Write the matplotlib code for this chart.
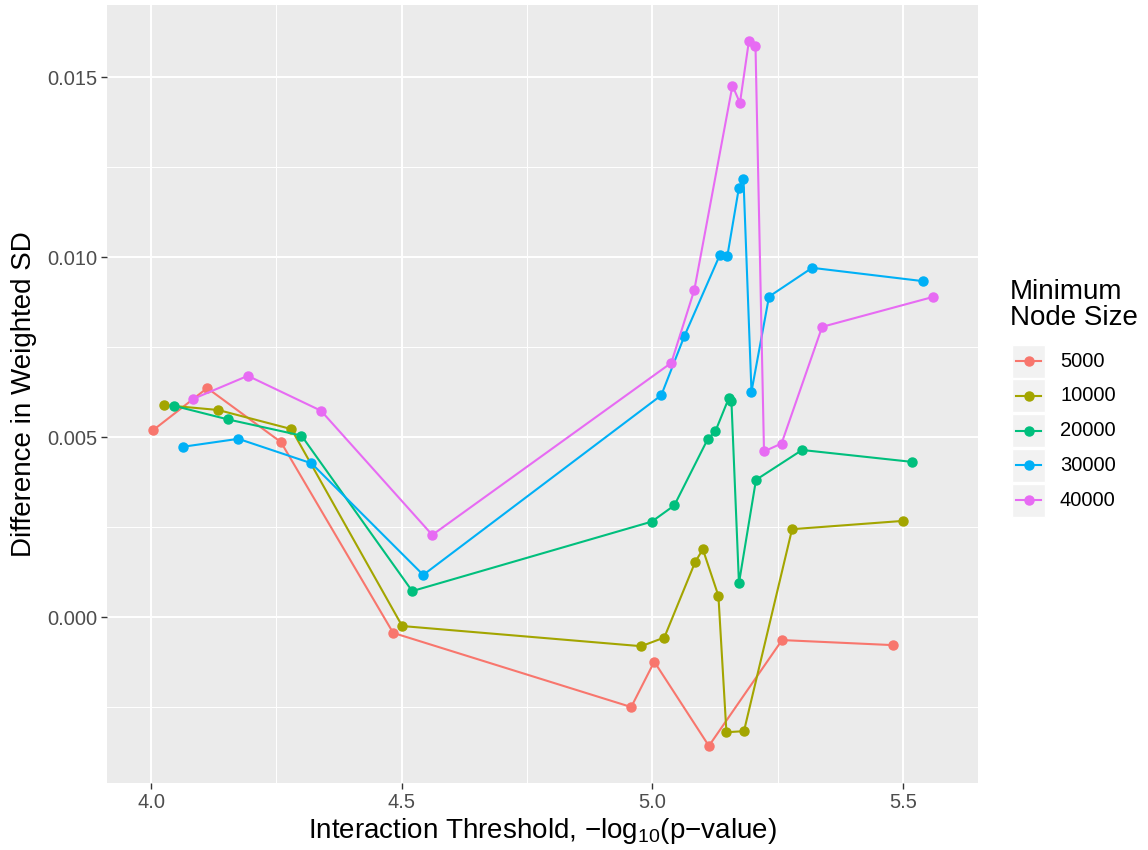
import matplotlib
matplotlib.use("Agg")
import matplotlib.pyplot as plt
from matplotlib.patches import Rectangle

plt.rcParams["font.family"] = ["Liberation Sans", "DejaVu Sans"]
plt.rcParams["mathtext.fontset"] = "custom"
plt.rcParams["mathtext.rm"] = "Liberation Sans"
plt.rcParams["mathtext.it"] = "Liberation Sans"

node_sizes = ["5000", "10000", "20000", "30000", "40000"]
colors = ["#F8766D", "#A3A500", "#00BF7D", "#00B0F6", "#E76BF3"]

x_5000 = [4.004, 4.112, 4.259, 4.483, 4.958, 5.004, 5.113, 5.259, 5.480]
y_5000 = [0.00519, 0.00636, 0.00486, -0.00044, -0.00250, -0.00124, -0.00358, -0.00064, -0.00078]

x_10000 = [4.025, 4.134, 4.280, 4.501, 4.978, 5.024, 5.086, 5.101, 5.132, 5.148, 5.183, 5.279, 5.500]
y_10000 = [0.00589, 0.00575, 0.00522, -0.00025, -0.00081, -0.00057, 0.00154, 0.00188, 0.00059,
           -0.00320, -0.00317, 0.00244, 0.00267]

x_20000 = [4.045, 4.153, 4.300, 4.521, 4.999, 5.044, 5.111, 5.126, 5.153, 5.158, 5.173, 5.207, 5.299, 5.518]
y_20000 = [0.00587, 0.00549, 0.00504, 0.00072, 0.00265, 0.00310, 0.00495, 0.00516, 0.00609, 0.00599,
           0.00094, 0.00381, 0.00464, 0.00431]

x_30000 = [4.064, 4.174, 4.320, 4.543, 5.018, 5.064, 5.135, 5.150, 5.173, 5.182, 5.198, 5.233, 5.319, 5.540]
y_30000 = [0.00473, 0.00495, 0.00427, 0.00117, 0.00616, 0.00780, 0.01006, 0.01004, 0.01193, 0.01217,
           0.00626, 0.00890, 0.00970, 0.00933]

x_40000 = [4.084, 4.193, 4.339, 4.561, 5.038, 5.084, 5.160, 5.175, 5.193, 5.206, 5.223, 5.258, 5.339, 5.560]
y_40000 = [0.00606, 0.00670, 0.00573, 0.00228, 0.00706, 0.00909, 0.01476, 0.01428, 0.01601, 0.01586,
           0.00460, 0.00482, 0.00806, 0.00889]

series = [(x_5000, y_5000), (x_10000, y_10000), (x_20000, y_20000),
          (x_30000, y_30000), (x_40000, y_40000)]

W, H = 1148, 850
fig = plt.figure(figsize=(W / 100, H / 100), dpi=100)
ax = fig.add_axes([107 / W, 1 - 783 / H, (978 - 107) / W, (783 - 5) / H])
ax.set_facecolor("#EBEBEB")
for s in ax.spines.values():
    s.set_visible(False)

for (xs, ys), c in zip(series, colors):
    ax.plot(xs, ys, color=c, lw=1.5, marker="o", ms=6.5, zorder=3)

ax.set_xlim(3.912, 5.650)
ax.set_ylim(-0.00461, 0.0170)
ax.set_xticks([4.0, 4.5, 5.0, 5.5])
ax.set_xticklabels(["4.0", "4.5", "5.0", "5.5"])
ax.set_yticks([0.0, 0.005, 0.010, 0.015])
ax.set_yticklabels(["0.000", "0.005", "0.010", "0.015"])
ax.set_xticks([4.25, 4.75, 5.25], minor=True)
ax.set_yticks([-0.0025, 0.0025, 0.0075, 0.0125], minor=True)
ax.grid(which="major", color="white", lw=1.4, zorder=0)
ax.grid(which="minor", color="white", lw=0.7, zorder=0)
ax.set_axisbelow(True)
ax.tick_params(which="major", length=4, width=1, color="#333333",
               labelsize=14.5, labelcolor="#4D4D4D", pad=3)
ax.tick_params(which="minor", length=0)

ax.set_xlabel(r"Interaction Threshold, $-$log$_{10}$(p$-$value)", fontsize=20, labelpad=3)
ax.set_ylabel("Difference in Weighted SD", fontsize=20, labelpad=7)

# legend drawn in pixel coordinates
lax = fig.add_axes([0, 0, 1, 1], facecolor="none")
lax.set_xlim(0, W)
lax.set_ylim(H, 0)
lax.axis("off")
lax.text(1010, 331, "Minimum\nNode Size", fontsize=20, va="bottom", ha="left",
         linespacing=1.0, color="black")
for i, (lab, c) in enumerate(zip(node_sizes, colors)):
    yc = 361 + i * 34.8
    lax.add_patch(Rectangle((1012, yc - 16.5), 33, 33, facecolor="#F2F2F2",
                            edgecolor="white", lw=1))
    lax.plot([1016, 1041], [yc, yc], color=c, lw=1.5)
    lax.plot([1028.5], [yc], color=c, marker="o", ms=6.5)
    lax.text(1060, yc, lab, fontsize=14.5, va="center", ha="left")

fig.savefig("out.png", dpi=100)
